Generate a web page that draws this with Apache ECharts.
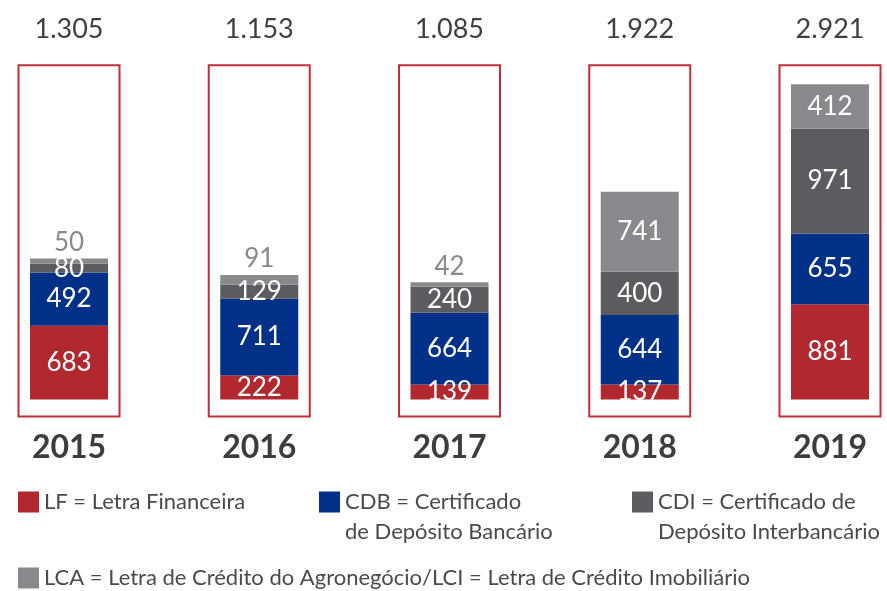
<!DOCTYPE html>
<html>
<head>
<meta charset="utf-8">
<script src="https://cdn.jsdelivr.net/npm/echarts@6/dist/echarts.min.js"></script>
<style>
html, body { margin: 0; padding: 0; background: #fff; }
#main { width: 887px; height: 591px; }
</style>
</head>
<body>
<div id="main"></div>
<script>
var anos = ['2015', '2016', '2017', '2018', '2019'];
var totais = [1305, 1153, 1085, 1922, 2921];
var lf = [683, 222, 139, 137, 881];
var cdb = [492, 711, 664, 644, 655];
var cdi = [80, 129, 240, 400, 971];
var lca = [50, 91, 42, 741, 412];
// limites da moldura vermelha (em unidades do eixo)
var caixaTopo = 3095;
var caixaBase = -158;

var nomes = [
    'LF = Letra Financeira',
    'CDB = Certificado\nde Depósito Bancário',
    'CDI = Certificado de\nDepósito Interbancário',
    'LCA = Letra de Crédito do Agronegócio/LCI = Letra de Crédito Imobiliário'
];
var cores = ['#b1282e', '#003087', '#5c5b60', '#8a888d'];
var fonte = 'Lato, "Open Sans", sans-serif';

var dom = document.getElementById('main');
var myChart = echarts.init(dom, null, {
    renderer: 'canvas',
    useDirtyRect: false
});

function fmt(v) {
    return String(v).replace(/\B(?=(\d{3})+(?!\d))/g, '.');
}

function barra(i, valores) {
    return {
        name: nomes[i],
        type: 'bar',
        stack: 'total',
        barWidth: 78,
        clip: false,
        itemStyle: { color: cores[i] },
        label: {
            show: true,
            position: 'inside',
            color: '#fff',
            fontSize: 26,
            fontFamily: fonte
        },
        data: valores.map(function (v) {
            // valores pequenos de LCA ficam acima da barra, em cinza
            if (i === 3 && v < 100) {
                return { value: v, label: { position: 'top', distance: 3, color: cores[3] } };
            }
            return v;
        })
    };
}

function legenda(i, left, top, duasLinhas) {
    return {
        data: [nomes[i]],
        left: left,
        top: top,
        padding: 0,
        icon: 'rect',
        itemWidth: 21,
        itemHeight: 21,
        selectedMode: false,
        // linha vazia no início para o quadrado ficar alinhado com a 1a linha
        formatter: function (n) { return duasLinhas ? '\n' + n : n; },
        textStyle: {
            fontSize: 22,
            fontFamily: fonte,
            color: '#4a4a4a',
            lineHeight: 30
        }
    };
}

var option = {
    animation: false,
    grid: { left: 69, right: 57, top: 43, bottom: 170 },
    legend: [
        legenda(0, 18, 487, false),
        legenda(1, 319, 457, true),
        legenda(2, 632, 457, true),
        legenda(3, 18, 563, false)
    ],
    xAxis: {
        type: 'category',
        data: anos,
        boundaryGap: false,
        axisLine: { show: false },
        axisTick: { show: false },
        axisLabel: {
            margin: 11,
            fontSize: 32,
            fontWeight: 'bold',
            fontFamily: fonte,
            color: '#3d3d3d'
        }
    },
    yAxis: {
        type: 'value',
        min: -200,
        max: 3300,
        show: false,
        splitLine: { show: false }
    },
    series: [
        barra(0, lf),
        barra(1, cdb),
        barra(2, cdi),
        barra(3, lca),
        {
            type: 'custom',
            silent: true,
            encode: { x: 0, y: [1, 2] },
            data: totais.map(function (t, i) { return [i, caixaBase, caixaTopo, t]; }),
            renderItem: function (params, api) {
                var topo = api.coord([api.value(0), api.value(2)]);
                var base = api.coord([api.value(0), api.value(1)]);
                var w = 101;
                return {
                    type: 'group',
                    children: [{
                        type: 'rect',
                        shape: { x: topo[0] - w / 2, y: topo[1], width: w, height: base[1] - topo[1] },
                        style: { fill: 'none', stroke: '#be2f37', lineWidth: 2 }
                    }, {
                        type: 'text',
                        style: {
                            text: fmt(api.value(3)),
                            x: topo[0],
                            y: topo[1] - 36,
                            align: 'center',
                            verticalAlign: 'middle',
                            fontSize: 27,
                            fontFamily: fonte,
                            fill: '#3f3f3f'
                        }
                    }]
                };
            }
        }
    ]
};

myChart.setOption(option);
window.addEventListener('resize', myChart.resize);
</script>
</body>
</html>
